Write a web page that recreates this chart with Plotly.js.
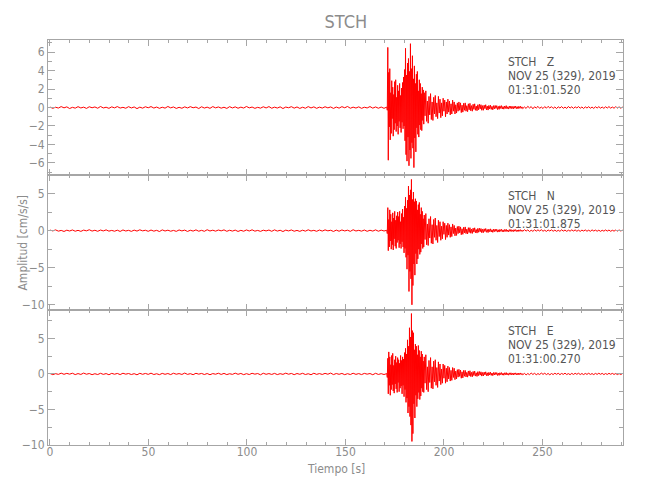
<!DOCTYPE html>
<html>
<head>
<meta charset="utf-8">
<script src="https://cdn.plot.ly/plotly-3.0.1.min.js"></script>
<style>html,body{margin:0;padding:0;background:#fff;}#chart{width:650px;height:500px;}</style>
</head>
<body>
<div id="chart"></div>
<script>
// ---- Data ----
var stationName = 'STCH';
var componentLabels = ['STCH\u00a0\u00a0\u00a0Z', 'STCH\u00a0\u00a0\u00a0N', 'STCH\u00a0\u00a0\u00a0E'];
var dateLabel = 'NOV 25 (329), 2019';
var startTimes = ['01:31:01.520', '01:31:01.875', '01:31:00.270'];
var xTickVals = [0, 50, 100, 150, 200, 250];

// segment time bounds [s]
var segQuiet = [0, 171];
var segBurst = [171, 190];
var segDecay = [190, 240];
var segCoda = [240, 291.5];

// Z component [cm/s/s]
var zQuiet = [.05,-.09,.03,-.06,.1,-.04,.07,-.11,.02,-.07,.09,-.05,.04,-.1,.08,-.03,.06,-.08,.11,-.05,.03,-.09,.07,-.04,.1,-.06,.02,-.08,.09,-.05,.06,-.12,.04,-.07,.08,-.03,.1,-.06,.05,-.09,.03,-.07,.11,-.04,.06,-.1,.02,-.08,.07,-.05,.09,-.03,.05,-.11,.08,-.06,.04,-.09,.1,-.04,.06,-.07,.03,-.1,.09,-.05,.07,-.08,.04,-.06,.11,-.04,.05,-.09,.02,-.07,.08,-.05,.1,-.08,.04,-.06,.07,-.11,.05,-.03,.09,-.07,.06,-.1,.03,-.08,.1,-.05,.07,-.09,.04,-.06,.08,-.04,.06,-.1,.05,-.07,.09,-.03,.11,-.08,.04,-.06,.07,-.09,.03,-.05,.1,-.07,.06,-.08,.05,-.09];
var zBurst = [.05,-.3,6.5,-5.7,3.8,-2.1,4.2,-3.5,1.6,-2.8,2.9,-1.2,2.2,-3.1,1.4,-2.4,2.8,-1.7,3.0,-2.6,1.1,-2.0,2.4,-2.9,1.8,-1.5,2.6,-2.2,1.3,-2.7,2.1,-1.6,2.7,-2.3,3.3,-2.0,4.1,-3.6,6.4,-5.1,3.5,-5.8,4.8,-3.2,5.3,-6.3,3.9,-4.6,6.9,-5.5,4.2,-3.8,5.6,-4.4,3.1,-6.5,4.5,-3.3,2.6,-4.8,3.6,-2.2,3.9,-2.9,1.8,-3.2,3.0,-1.9,2.6,-2.4,1.5,-2.5,2.2,-1.4,1.9,-1.8];
var zDecay = [1.6,-0.9,1.8,-1.5,0.7,-1.7,1.2,-0.8,1.5,-1.3,0.6,-1.4,1.1,-0.7,1.3,-1.0,0.5,-1.2,1.2,-0.6,0.9,-1.1,0.5,-0.9,1.0,-0.4,0.8,-1.0,0.6,-0.7,0.9,-0.5,0.7,-0.8,0.4,-0.7,0.8,-0.4,0.6,-0.7,0.3,-0.6,0.5,-0.4,0.6,-0.3,0.5,-0.55,0.25,-0.5,0.45,-0.3,0.5,-0.4,0.2,-0.45,0.4,-0.25,0.45,-0.35,0.2,-0.4,0.35,-0.2,0.4,-0.3,0.15,-0.35,0.3,-0.25,0.35,-0.15,0.3,-0.3,0.2,-0.3,0.25,-0.12,0.3,-0.25,0.15,-0.28,0.22,-0.15,0.25,-0.2,0.12,-0.25,0.2,-0.15,0.22,-0.1,0.2,-0.22,0.12,-0.2,0.18,-0.1,0.2,-0.16,0.1,-0.18,0.16,-0.1,0.2,-0.14,0.08,-0.17,0.15,-0.1,0.16,-0.12,0.1,-0.15,0.14,-0.08,0.15,-0.12,0.09,-0.14,0.12,-0.08,0.14,-0.1,0.07];
var zCoda = [-.12,.06,-.1,.13,-.05,.1,-.14,.08,-.06,.12,-.09,.05,-.11,.1,-.07,.12,-.05,.09,-.1,.06,-.12,.08,-.06,.1,-.09,.05,-.1,.11,-.06,.08,-.1,.07,-.05,.1,-.08,.06,-.11,.07,-.06,.09,-.08,.05,-.1,.08,-.06,.09,-.07,.05,-.09,.08,-.06,.1,-.07,.05,-.08,.09,-.06,.07,-.08,.06];

// N component [cm/s/s]
var nQuiet = [.08,-.04,.1,-.07,.03,-.11,.06,-.05,.09,-.08,.04,-.1,.07,-.03,.12,-.06,.05,-.09,.08,-.04,.1,-.07,.03,-.08,.06,-.11,.09,-.05,.04,-.1,.07,-.06,.11,-.03,.05,-.09,.08,-.07,.04,-.12,.1,-.05,.06,-.08,.03,-.1,.09,-.04,.07,-.11,.05,-.06,.1,-.08,.04,-.09,.12,-.05,.06,-.07,.08,-.03,.1,-.09,.05,-.06,.07,-.11,.04,-.08,.09,-.05,.11,-.07,.03,-.1,.06,-.04,.08,-.09,.1,-.06,.05,-.12,.07,-.04,.09,-.08,.03,-.1,.06,-.07,.11,-.05,.04,-.09,.08,-.06,.1,-.03,.05,-.11,.07,-.08,.09,-.04,.06,-.1,.12,-.05,.04,-.07,.08,-.09,.05,-.06,.1,-.08,.07,-.05];
var nBurst = [.05,-.4,3.1,-2.7,1.5,-2.2,2.8,-1.4,2.2,-2.5,1.2,-1.9,2.4,-2.6,1.7,-1.1,2.6,-2.1,1.4,-2.4,2.0,-1.6,2.5,-1.3,1.9,-2.3,2.6,-1.8,1.2,-2.4,2.3,-1.5,2.9,-2.2,1.8,-3.0,3.3,-2.4,4.5,-3.6,3.0,-5.2,4.1,-3.3,6.0,-8.2,4.8,-5.5,5.5,-6.5,6.9,-10.0,4.2,-7.4,5.2,-4.5,3.9,-6.0,4.3,-3.1,4.0,-4.5,2.8,-3.8,3.5,-2.5,3.8,-3.2,2.2,-2.9,3.1,-1.8,2.6,-2.4,1.6,-2.2];
var nDecay = [2.1,-1.2,2.3,-1.9,0.9,-2.0,1.6,-1.0,1.9,-1.7,0.8,-1.8,1.5,-0.9,1.7,-1.3,0.7,-1.6,1.4,-0.8,1.2,-1.3,0.6,-1.1,1.2,-0.5,1.0,-1.2,0.7,-0.9,1.0,-0.6,0.8,-0.9,0.5,-0.8,0.9,-0.4,0.7,-0.7,0.35,-0.65,0.55,-0.4,0.6,-0.3,0.5,-0.55,0.25,-0.5,0.45,-0.3,0.5,-0.4,0.2,-0.45,0.4,-0.25,0.4,-0.35,0.2,-0.38,0.33,-0.2,0.38,-0.28,0.15,-0.33,0.3,-0.22,0.32,-0.15,0.28,-0.28,0.18,-0.27,0.24,-0.12,0.28,-0.22,0.15,-0.26,0.2,-0.14,0.24,-0.18,0.12,-0.23,0.19,-0.14,0.2,-0.1,0.18,-0.2,0.11,-0.19,0.16,-0.09,0.18,-0.15,0.1,-0.17,0.15,-0.1,0.18,-0.13,0.08,-0.16,0.14,-0.1,0.15,-0.11,0.09,-0.14,0.13,-0.08,0.14,-0.11,0.08,-0.13,0.11,-0.08,0.13,-0.09,0.07];
var nCoda = [-.1,.13,-.06,.1,-.12,.05,-.09,.11,-.07,.1,-.05,.12,-.08,.06,-.11,.09,-.05,.1,-.08,.07,-.1,.05,-.09,.11,-.06,.08,-.1,.06,-.07,.1,-.05,.09,-.08,.06,-.1,.07,-.05,.09,-.08,.06,-.09,.1,-.05,.07,-.08,.06,-.1,.05,-.07,.09,-.06,.08,-.09,.05,-.07,.08,-.06,.09,-.05,.07];

// E component [cm/s/s]
var eQuiet = [.07,-.1,.04,-.06,.11,-.05,.08,-.03,.1,-.09,.05,-.07,.12,-.04,.06,-.1,.03,-.08,.09,-.06,.05,-.11,.08,-.04,.07,-.09,.1,-.03,.06,-.08,.04,-.12,.09,-.05,.07,-.06,.11,-.08,.03,-.1,.08,-.05,.06,-.09,.1,-.04,.05,-.07,.12,-.06,.04,-.1,.09,-.03,.07,-.08,.06,-.11,.05,-.04,.1,-.07,.08,-.09,.03,-.06,.11,-.05,.07,-.1,.04,-.08,.09,-.03,.06,-.12,.1,-.05,.05,-.07,.08,-.09,.04,-.06,.11,-.04,.07,-.1,.06,-.05,.09,-.08,.03,-.11,.1,-.06,.05,-.07,.08,-.04,.12,-.09,.06,-.05,.07,-.1,.04,-.08,.1,-.06,.05,-.09,.08,-.03,.06,-.11,.09,-.07,.04,-.08];
var eBurst = [.05,-.5,2.2,-2.8,3.1,-1.6,2.4,-3.0,1.3,-2.2,2.6,-1.5,2.9,-2.4,1.2,-2.7,2.0,-1.4,2.5,-2.1,1.6,-2.6,2.3,-1.2,2.0,-2.5,1.5,-2.0,2.6,-1.7,1.9,-2.8,2.4,-1.6,2.1,-3.2,3.0,-2.2,3.6,-4.0,2.8,-3.4,4.8,-5.5,3.9,-4.6,6.5,-6.0,5.2,-7.2,8.5,-9.5,6.1,-8.4,5.8,-4.2,3.4,-6.2,4.2,-3.0,3.9,-4.6,2.7,-3.5,4.0,-2.6,3.3,-3.6,2.4,-3.1,3.2,-2.0,2.8,-2.5,1.8,-2.6];
var eDecay = [2.4,-1.3,2.7,-2.2,1.0,-2.5,1.9,-1.2,2.3,-2.0,1.0,-2.1,1.8,-1.1,2.0,-1.6,0.9,-1.9,1.7,-1.0,1.4,-1.5,0.7,-1.3,1.4,-0.6,1.2,-1.3,0.8,-1.1,1.1,-0.7,0.9,-1.0,0.5,-0.9,0.9,-0.5,0.8,-0.8,0.4,-0.7,0.6,-0.45,0.65,-0.35,0.55,-0.6,0.3,-0.55,0.5,-0.32,0.5,-0.42,0.22,-0.45,0.42,-0.26,0.45,-0.36,0.22,-0.4,0.35,-0.22,0.4,-0.3,0.16,-0.35,0.32,-0.24,0.34,-0.16,0.3,-0.3,0.2,-0.28,0.26,-0.13,0.3,-0.24,0.16,-0.27,0.22,-0.15,0.25,-0.2,0.13,-0.24,0.2,-0.15,0.21,-0.1,0.19,-0.21,0.12,-0.2,0.17,-0.1,0.19,-0.16,0.1,-0.18,0.16,-0.1,0.19,-0.14,0.08,-0.17,0.15,-0.1,0.16,-0.12,0.1,-0.15,0.14,-0.08,0.15,-0.12,0.09,-0.14,0.12,-0.08,0.14,-0.1,0.07];
var eCoda = [-.11,.08,-.13,.06,-.1,.12,-.07,.09,-.11,.05,-.08,.12,-.06,.1,-.09,.07,-.12,.06,-.08,.1,-.05,.09,-.1,.07,-.06,.11,-.08,.05,-.1,.08,-.07,.09,-.05,.1,-.08,.06,-.09,.07,-.06,.1,-.07,.05,-.09,.08,-.06,.1,-.05,.08,-.09,.06,-.07,.09,-.05,.08,-.07,.06,-.09,.05,-.08,.06];

// ---- Build series (sample times spread evenly inside each segment) ----
function buildSeries(parts) {
  var x = [], y = [];
  parts.forEach(function (p) {
    var b = p[0], v = p[1], dt = (b[1] - b[0]) / v.length;
    for (var i = 0; i < v.length; i++) { x.push(b[0] + i * dt); y.push(v[i]); }
  });
  return {x: x, y: y};
}
var sZ = buildSeries([[segQuiet, zQuiet], [segBurst, zBurst], [segDecay, zDecay], [segCoda, zCoda]]);
var sN = buildSeries([[segQuiet, nQuiet], [segBurst, nBurst], [segDecay, nDecay], [segCoda, nCoda]]);
var sE = buildSeries([[segQuiet, eQuiet], [segBurst, eBurst], [segDecay, eDecay], [segCoda, eCoda]]);

var FONT = '"DejaVu Sans Condensed", "Liberation Sans Narrow", "Liberation Sans", sans-serif';
var GRAY = '#8c8c8c';
var AXC = '#a6a6a6';
var RED = '#ff0000';

function trace(s, xa, ya) {
  return {x: s.x, y: s.y, xaxis: xa, yaxis: ya, type: 'scatter', mode: 'lines',
          line: {color: RED, width: 1, simplify: false}, hoverinfo: 'skip'};
}
var data = [trace(sZ, 'x', 'y'), trace(sN, 'x2', 'y2'), trace(sE, 'x3', 'y3')];

function xAxis(anchor, labels) {
  return {anchor: anchor, domain: [0, 1], range: [-1, 290.9], tickmode: 'array', tickvals: xTickVals,
          ticks: 'inside', ticklen: 6, tickwidth: 1, tickcolor: AXC,
          minor: {dtick: 10, tick0: 0, ticks: 'inside', ticklen: 3, tickcolor: AXC, showgrid: false},
          showline: true, linecolor: AXC, linewidth: 1, mirror: 'ticks',
          showgrid: false, zeroline: false, showticklabels: labels, ticklabelstandoff: -4,
          tickfont: {family: FONT, size: 12, color: GRAY}};
}
function yAxis(domain, range, dtick, mdtick) {
  return {domain: domain, range: range, dtick: dtick, tick0: 0,
          ticks: 'inside', ticklen: 7, tickwidth: 1, tickcolor: AXC,
          minor: {dtick: mdtick, tick0: 0, ticks: 'inside', ticklen: 4, tickcolor: AXC, showgrid: false},
          showline: true, linecolor: AXC, linewidth: 1, mirror: 'ticks',
          showgrid: false, zeroline: false,
          tickfont: {family: FONT, size: 12, color: GRAY}};
}

var annFont = {family: FONT, size: 12, color: '#555555'};
var infoY = [[0.9457, 0.9111, 0.8765], [0.6148, 0.5802, 0.5457], [0.2815, 0.2469, 0.2123]];
var annotations = [];
for (var k = 0; k < 3; k++) {
  var lines = [componentLabels[k], dateLabel, startTimes[k]];
  for (var j = 0; j < 3; j++) {
    annotations.push({xref: 'paper', yref: 'paper', x: 0.7965, y: infoY[k][j], xanchor: 'left', yanchor: 'middle',
                      text: lines[j], showarrow: false, font: annFont});
  }
}
annotations.push({xref: 'paper', yref: 'paper', x: -0.0452, y: 0.5, xanchor: 'center', yanchor: 'middle',
                  textangle: -90, text: 'Amplitud [cm/s/s]', showarrow: false, font: {family: FONT, size: 12, color: GRAY}});
annotations.push({xref: 'paper', yref: 'paper', x: 0.5, y: -0.0593, xanchor: 'center', yanchor: 'middle',
                  text: 'Tiempo [s]', showarrow: false, font: {family: FONT, size: 12, color: GRAY}});

var layout = {
  width: 650, height: 500,
  margin: {l: 48, r: 27, t: 40, b: 55, pad: 0},
  paper_bgcolor: '#ffffff', plot_bgcolor: '#ffffff',
  showlegend: false,
  title: {text: stationName, font: {family: FONT, size: 18, color: GRAY},
          x: 0.518, xanchor: 'center', xref: 'paper', y: 1 - 22 / 500, yanchor: 'middle', yref: 'container'},
  xaxis: xAxis('y', false),
  xaxis2: xAxis('y2', false),
  xaxis3: xAxis('y3', true),
  yaxis: yAxis([2 / 3, 1], [-7.3, 7.3], 2, 1),
  yaxis2: yAxis([1 / 3, 2 / 3], [-10.7, 7.5], 5, 2.5),
  yaxis3: yAxis([0, 1 / 3], [-10, 9], 5, 2.5),
  annotations: annotations
};

Plotly.newPlot('chart', data, layout, {staticPlot: true, displayModeBar: false});
</script>
</body>
</html>
